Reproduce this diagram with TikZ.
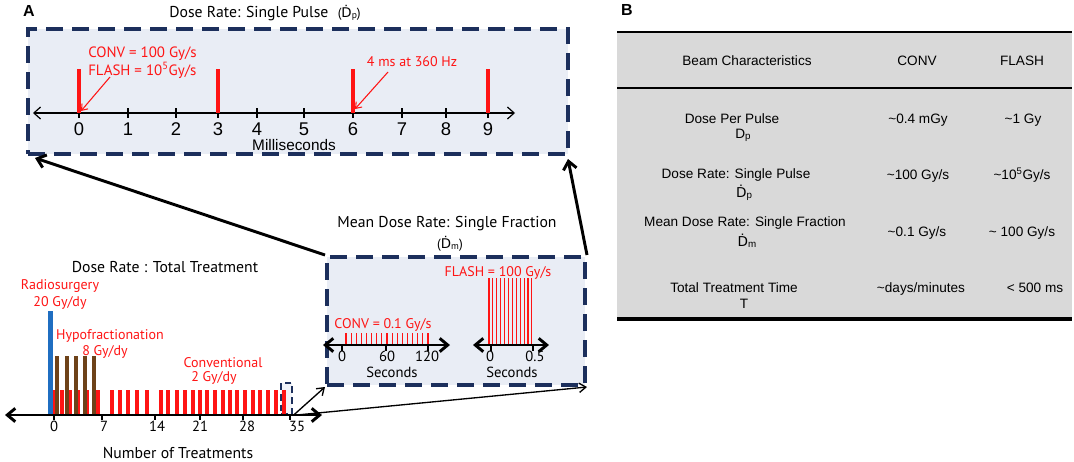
\documentclass[tikz,border=0pt]{standalone}
\usepackage{fontspec}
\setmainfont{Liberation Sans}
\newfontfamily\myr{PT Sans}
\newfontfamily\dvs{DejaVu Sans}
\usetikzlibrary{arrows.meta,fit}
\definecolor{navy}{HTML}{1C2F5C}
\definecolor{boxfill}{HTML}{E9EDF5}
\definecolor{pulse}{HTML}{FF1414}
\definecolor{tgray}{HTML}{D9D9D9}
\definecolor{bluebar}{HTML}{1F6EC1}
\definecolor{brownbar}{HTML}{6E4219}
\newcommand\dotD{{\dvs Ḋ}}
\newcommand\subl[1]{\raisebox{-0.2ex}{\scalebox{0.72}{#1}}}
\begin{document}
\begin{tikzpicture}[x=0.75pt,y=-0.75pt,
  dashbox/.style={draw=navy,line width=3pt,dash pattern=on 13pt off 6.5pt,fill=boxfill,inner sep=0pt},
  ttl/.style={font=\myr\fontsize{11.8}{14}\selectfont,inner sep=0pt,anchor=base},
  redl/.style={text=pulse,font=\myr\fontsize{10.5}{12}\selectfont,inner sep=0pt,anchor=base},
  num/.style={font=\myr\fontsize{11}{12}\selectfont,inner sep=0pt,anchor=base},
  bignum/.style={font=\fontsize{13.8}{15}\selectfont,inner sep=0pt,anchor=base},
  tab/.style={font=\fontsize{10.2}{11}\selectfont,inner sep=0pt,anchor=base},
  panel/.style={font=\bfseries\fontsize{12}{14}\selectfont,inner sep=0pt,anchor=base},
  pulseline/.style={draw=pulse,line width=2.8pt},
  thinaxis/.style={line width=0.9pt,{Straight Barb[length=5pt,width=9pt]}-{Straight Barb[length=5pt,width=9pt]}},
  thickaxis/.style={line width=2.2pt,{Straight Barb[length=6pt,width=10pt]}-{Straight Barb[length=6pt,width=10pt]}},
  bigconn/.style={line width=2.2pt,-{Straight Barb[length=6pt,width=10pt]}},
  thinconn/.style={line width=1pt,-{Straight Barb[length=5pt,width=7pt]}},
  redconn/.style={draw=pulse,line width=0.8pt,-{Straight Barb[length=4pt,width=6pt]}},
  tick/.style={line width=1.1pt}
]
\useasboundingbox (0,0) rectangle (1074,461);

% ---------------- panel letters
\node[panel] (pA) at (29,16) {A};
\node[panel] (pB) at (627,15) {B};

% ---------------- top box (single pulse)
\coordinate (tb1) at (28,29);
\coordinate (tb2) at (568,154);
\node[dashbox,fit=(tb1)(tb2)] (topbox) {};
\node[ttl] (toptitle) at (265,17) {Dose Rate: Single Pulse\hspace{7pt}{\fontsize{10}{12}\selectfont(\dotD\subl{p})}};

\coordinate (ta1) at (33,113);
\coordinate (ta2) at (515,113);
\draw[thinaxis] (ta1) -- (ta2);
\foreach \x/\l in {79/0,128/1,176/2,218/3,257/4,304/5,353/6,402/7,446/8,488/9}{
  \draw[tick] (\x,108) -- (\x,118);
  \node[bignum] (tn\l) at (\x,135) {\l};
}
\foreach \x in {79,218,353,488}{\draw[pulseline] (\x,69) -- (\x,113);}
\node[font=\fontsize{11.5}{13}\selectfont,inner sep=0pt,anchor=base] (ms) at (294,150) {Milliseconds};

\node[redl,anchor=base west,font=\myr\fontsize{11.2}{12}\selectfont] (convl) at (88,57) {CONV = 100 Gy/s};
\node[redl,anchor=base west,font=\myr\fontsize{11.2}{12}\selectfont] (flashl) at (88,75) {FLASH = 10\textsuperscript{5}Gy/s};
\node[redl] (hzl) at (412,66) {4 ms at 360 Hz};
\coordinate (r1s) at (110,77);
\coordinate (r1e) at (81,111);
\coordinate (r2s) at (388,72);
\coordinate (r2e) at (355,109);
\draw[redconn] (r1s) -- (r1e);
\draw[redconn] (r2s) -- (r2e);

% ---------------- middle box (single fraction)
\coordinate (mb1) at (327,257);
\coordinate (mb2) at (585,385);
\node[dashbox,fit=(mb1)(mb2)] (midbox) {};
\node[ttl] (midtitle) at (447,227) {Mean Dose Rate: Single Fraction};
\node[ttl,font=\myr\fontsize{10}{12}\selectfont] (midsym) at (450,248) {(\dotD\subl{m})};

% FLASH part
\foreach \i in {0,...,11}{\draw[draw=pulse,line width=0.8pt] (489+3.9*\i,278) -- (489+3.9*\i,345);}
\coordinate (fa1) at (473,345);
\coordinate (fa2) at (549,345);
\draw[thickaxis] (fa1) -- (fa2);
\draw[tick] (491,345) -- (491,351);
\draw[tick] (533,345) -- (533,351);
\node[num] (f0) at (490,361) {0};
\node[num] (f05) at (535,361) {0.5};
\node[num] (fsec) at (512,377) {Seconds};
\node[redl] (flash100) at (498,276) {FLASH = 100 Gy/s};

% CONV part
\foreach \i in {0,...,16}{\draw[draw=pulse,line width=0.8pt] (346+5.125*\i,333) -- (346+5.125*\i,345);}
\coordinate (ca1) at (323,345);
\coordinate (ca2) at (450,345);
\draw[thickaxis] (ca1) -- (ca2);
\foreach \x in {342,386,428}{\draw[tick] (\x,345) -- (\x,351);}
\node[num] (c0) at (342,361) {0};
\node[num] (c60) at (387,361) {60};
\node[num] (c120) at (427,361) {120};
\node[num] (csec) at (392,377) {Seconds};
\node[redl] (conv01) at (383,328) {CONV = 0.1 Gy/s};

% ---------------- bottom chart (total treatment)
\node[ttl] (tottitle) at (165,272) {Dose Rate : Total Treatment};
\node[redl] (rs1) at (60,289) {Radiosurgery};
\node[redl] (rs2) at (60,306) {20 Gy/dy};
\node[redl] (hf1) at (110,339) {Hypofractionation};
\node[redl] (hf2) at (105,355) {8 Gy/dy};
\node[redl] (cv1) at (223,367) {Conventional};
\node[redl] (cv2) at (214,381) {2 Gy/dy};

\fill[pulse] (53,390) rectangle (58,415);
\foreach \x in {62,70,78,87,98,112,120,128,137,147,161,168,177,185,193,200,207,215,223,230,237,245,253,260,268,276,284}{
  \fill[pulse] (\x-2,390) rectangle (\x+2,415);
}
\foreach \x in {57,67,76,85,94}{\fill[brownbar] (\x-2,356) rectangle (\x+2,415);}
\fill[bluebar] (48,311) rectangle (53,415);

\coordinate (bk1) at (281,383);
\coordinate (bk2) at (292,414);
\node[draw=navy,line width=2pt,dash pattern=on 5pt off 3pt,fill=boxfill,fill opacity=0.6,inner sep=0pt,fit=(bk1)(bk2)] (bracket) {};
\fill[pulse] (282,390) rectangle (286,415);

\coordinate (ba1) at (5,415);
\coordinate (ba2) at (322,415);
\draw[thickaxis] (ba1) -- (ba2);
\foreach \x in {54,102,155,200,243,290}{\draw[tick] (\x,415) -- (\x,420);}
\foreach \x/\l in {54/0,104/7,157/14,200/21,247/28,297/35}{\node[num] (bn\l) at (\x,431) {\l};}
\node[ttl] (nt) at (178,458) {Number of Treatments};

% ---------------- connectors
\coordinate (tipL) at (35,158);
\coordinate (tipR) at (568,159);
\draw[bigconn] (midbox.north west) -- (tipL);
\draw[bigconn] (midbox.north east) -- (tipR);
\draw[thinconn] (bracket.south east) -- (midbox.south west);
\draw[thinconn] (bracket.south east) -- (midbox.south east);

% ---------------- table B
\fill[tgray] (617,32) rectangle (1072,319);
\draw[line width=1.6pt] (617,32) -- (1072,32);
\draw[line width=1.6pt] (617,88) -- (1072,88);
\draw[line width=2.4pt] (617,319) -- (1072,319);

\node[tab] (h1) at (747,65) {Beam Characteristics};
\node[tab] (h2) at (917,65) {CONV};
\node[tab] (h3) at (1022,65) {FLASH};

\node[tab] (a1) at (732,123) {Dose Per Pulse};
\node[tab] (a1s) at (743,138) {D\subl{p}};
\node[tab] (a2) at (918,123) {\textasciitilde 0.4 mGy};
\node[tab] (a3) at (1023,123) {\textasciitilde 1 Gy};

\node[tab] (b1) at (736,178) {Dose Rate: Single Pulse};
\node[tab] (b1s) at (744,197) {\dotD\subl{p}};
\node[tab] (b2) at (918,179) {\textasciitilde 100 Gy/s};
\node[tab] (b3) at (1022,179) {\textasciitilde 10\textsuperscript{5}Gy/s};

\node[tab] (c1) at (745,226) {Mean Dose Rate: Single Fraction};
\node[tab] (c1s) at (747,246) {\dotD\subl{m}};
\node[tab] (c2) at (917,236) {\textasciitilde 0.1 Gy/s};
\node[tab] (c3) at (1022,236) {\textasciitilde\ 100 Gy/s};

\node[tab] (d1) at (734,292) {Total Treatment Time};
\node[tab] (d1s) at (744,308) {T};
\node[tab] (d2) at (921,292) {\textasciitilde days/minutes};
\node[tab] (d3) at (1035,292) {< 500 ms};
\end{tikzpicture}
\end{document}
